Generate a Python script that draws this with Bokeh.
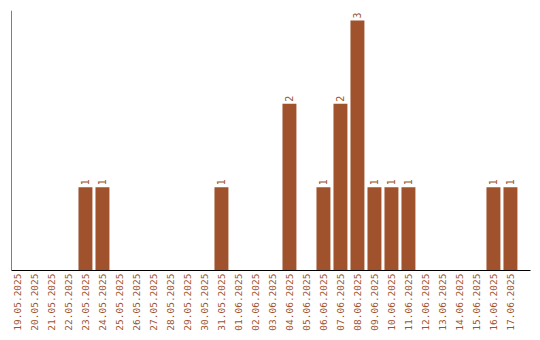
import math
from bokeh.plotting import figure
from bokeh.models import ColumnDataSource, Range1d, Span, FixedTicker
from bokeh.core.properties import value
from bokeh.embed import file_html
from bokeh.resources import INLINE

dates = ["19.05.2025", "20.05.2025", "21.05.2025", "22.05.2025", "23.05.2025",
         "24.05.2025", "25.05.2025", "26.05.2025", "27.05.2025", "28.05.2025",
         "29.05.2025", "30.05.2025", "31.05.2025", "01.06.2025", "02.06.2025",
         "03.06.2025", "04.06.2025", "05.06.2025", "06.06.2025", "07.06.2025",
         "08.06.2025", "09.06.2025", "10.06.2025", "11.06.2025", "12.06.2025",
         "13.06.2025", "14.06.2025", "15.06.2025", "16.06.2025", "17.06.2025"]
counts = [0, 0, 0, 0, 1, 1, 0, 0, 0, 0, 0, 0, 1, 0, 0,
          0, 2, 0, 1, 2, 3, 1, 1, 1, 0, 0, 0, 0, 1, 1]

COLOR = "#A0522D"
FONT = "DejaVu Sans Mono"

xs = list(range(len(dates)))
src = ColumnDataSource(dict(x=xs, y=counts))
lx = [x for x, c in zip(xs, counts) if c > 0]
ly = [c for c in counts if c > 0]
lsrc = ColumnDataSource(dict(x=lx, y=ly, t=[str(c) for c in ly]))

p = figure(width=540, height=340, frame_width=519, frame_height=260,
           output_backend="svg", toolbar_location=None,
           x_range=Range1d(-0.35, 30.18), y_range=Range1d(0, 3.12),
           min_border_left=11, min_border_right=10, min_border_top=10,
           min_border_bottom=70)
p.outline_line_color = None
p.grid.visible = False
p.yaxis.visible = False
p.background_fill_color = "white"
p.border_fill_color = "white"

p.vbar(x="x", top="y", width=0.82, source=src, color=COLOR, line_color=None)
p.text(x="x", y="y", text="t", source=lsrc, angle=math.pi / 2,
       text_align="left", text_baseline="middle", y_offset=-2,
       text_color=COLOR, text_font=value(FONT), text_font_size="10px")

p.add_layout(Span(location=-0.35, dimension="height", line_color="black", line_width=1))

ax = p.xaxis[0]
ax.ticker = FixedTicker(ticks=xs)
ax.major_label_overrides = {i: d for i, d in enumerate(dates)}
ax.major_label_orientation = math.pi / 2
ax.major_tick_line_color = None
ax.minor_tick_line_color = None
ax.major_tick_out = 0
ax.major_tick_in = 0
ax.major_label_standoff = 3
ax.axis_line_color = "black"
ax.major_label_text_color = COLOR
ax.major_label_text_font = FONT
ax.major_label_text_font_size = "9.5px"

open("out.html", "w").write(file_html(p, INLINE))
